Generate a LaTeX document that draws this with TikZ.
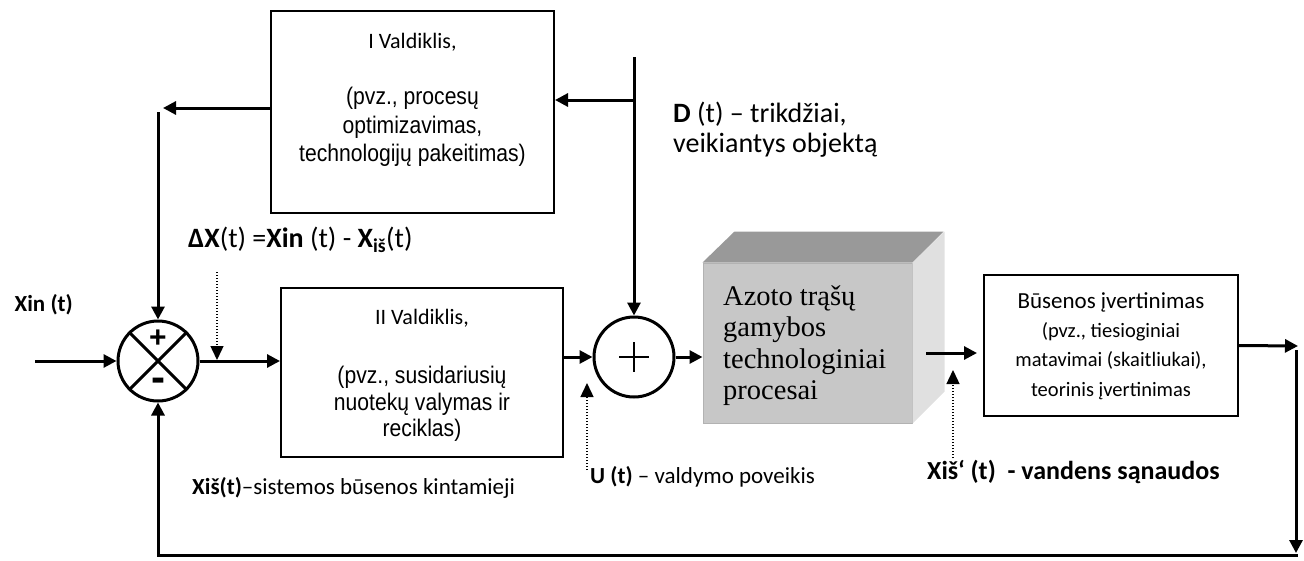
\documentclass[tikz,border=0pt]{standalone}
\usepackage{fontspec}
\setmainfont{Carlito}
\newfontfamily\arialn[FakeStretch=0.88]{Liberation Sans}
\newfontfamily\arialf{Liberation Sans}
\newfontfamily\timesf{Liberation Serif}
\usetikzlibrary{arrows.meta,calc}

\begin{document}
\begin{tikzpicture}[x=1pt,y=-1pt,
  arr/.style={line width=3pt,-{Triangle[length=13pt,width=13pt]}},
  dotarr/.style={line width=1.4pt,dash pattern=on 1.4pt off 1.6pt,-{Triangle[length=14pt,width=13pt]}},
  box/.style={draw,line width=2pt,inner sep=0pt},
  sum/.style={draw,circle,line width=3pt,minimum size=80pt,inner sep=0pt},
  lab/.style={inner sep=0pt,font=\fontsize{23}{26}\selectfont},
  boxtxt/.style={inner sep=0pt,align=center}
]
\useasboundingbox (0,0) rectangle (1304,560);

% controller I
\node[box,minimum width=283pt,minimum height=202pt] (vI) at (412.5,112) {};
\node[boxtxt,font=\fontsize{22}{26}\selectfont] (vIt) at (412.5,42) {I Valdiklis,};
\node[boxtxt,font=\arialn\fontsize{24}{28.5}\selectfont] (vIb) at (412.5,127)
  {(pvz., procesų\\optimizavimas,\\technologijų pakeitimas)};

% controller II
\node[box,minimum width=282pt,minimum height=169pt] (vII) at (422,372.5) {};
\node[boxtxt,font=\fontsize{22}{26}\selectfont] (vIIt) at (422,318) {II Valdiklis,};
\node[boxtxt,font=\arialn\fontsize{24}{26.5}\selectfont] (vIIb) at (422,404)
  {(pvz., susidariusių\\nuotekų valymas ir\\reciklas)};

% comparator
\node[sum] (s1) at (158,361) {};
\draw[line width=3pt] (s1.north east) -- (s1.south west) (s1.north west) -- (s1.south east);
\node[inner sep=0pt,font=\arialf\bfseries\fontsize{30}{30}\selectfont] (plus1) at (158,339) {+};
\node[inner sep=0pt,font=\arialf\bfseries\fontsize{42}{42}\selectfont] (minus1) at (158,385) {-};

% disturbance summing point
\node[sum] (s2) at (634,357) {};
\draw[line width=1.5pt] ($(s2)+(-15,0)$) -- ($(s2)+(15,0)$) ($(s2)+(0,-15)$) -- ($(s2)+(0,15)$);

% process block (3D box)
\node[draw=black!30,line width=1pt,fill=black!22,minimum width=209pt,minimum height=160pt,inner sep=0pt] (proc) at (807.5,343) {};
\fill[black!40] (proc.north west) -- ++(32,-31) -- ++(209,0) -- (proc.north east) -- cycle;
\fill[black!12] (proc.north east) -- ++(32,-31) -- ++(0,160) -- (proc.south east) -- cycle;
\node[inner sep=0pt,align=left,anchor=north west,font=\timesf\fontsize{28.5}{31.5}\selectfont] (proct) at (723,285)
  {Azoto trąšų\\gamybos\\technologiniai\\procesai};

% state estimation
\node[box,minimum width=254pt,minimum height=141pt] (bus) at (1111,345.5) {};
\node[boxtxt,font=\fontsize{20.5}{29.3}\selectfont] (bust) at (1111,346)
  {{\fontsize{23}{29.3}\selectfont Būsenos įvertinimas}\\(pvz., tiesioginiai\\matavimai (skaitliukai),\\teorinis įvertinimas};

% labels
\node[inner sep=0pt,anchor=west,align=left,font=\fontsize{28}{30}\selectfont] (dlab) at (673,130)
  {\textbf{D} (t) – trikdžiai,\\veikiantys objektą};
\node[lab,anchor=west,font=\fontsize{28}{30}\selectfont] (dxlab) at (188,240)
  {\textbf{ΔX}(t) =\textbf{Xin} (t) - \textbf{X}\textsubscript{\textbf{iš}}(t)};
\node[lab,anchor=east,font=\bfseries\fontsize{23}{26}\selectfont] (xinlab) at (73,305) {Xin (t)};
\node[lab,anchor=west] (xislab) at (192,488) {\textbf{Xiš(t)}–sistemos būsenos kintamieji};
\node[lab,anchor=west] (ulab) at (590,477) {\textbf{U (t)} – valdymo poveikis};
\node[lab,anchor=west,font=\bfseries\fontsize{26}{28}\selectfont] (xoutlab) at (927,472) {Xiš‘ (t)\ \ - vandens sąnaudos};

% helper points
\coordinate (iL) at (163,108);
\coordinate (iLv) at (158,112);
\coordinate (dTop) at (634,57);
\coordinate (dI) at (634,100);
\coordinate (xinS) at (35,361);
\coordinate (pOut) at (926,353);
\coordinate (bR) at (1298,346);
\coordinate (rTop) at (1296,350);
\coordinate (rBot) at (1296,553);
\coordinate (rCorner) at (1297.5,555);
\coordinate (lBot) at (158,555);
\coordinate (q1) at (217,272);
\coordinate (q2) at (587,470);
\coordinate (q2t) at (587,383);
\coordinate (q3) at (953,458);
\coordinate (q3t) at (953,370);

% connectors
\draw[arr] (vI.west |- iL) -- (iL);
\draw[arr] (iLv) -- (s1.north);
\draw[arr] (dTop) -- (s2.north);
\draw[arr] (dI) -- (vI.east |- dI);
\draw[arr] (xinS) -- (s1.west);
\draw[arr] (s1.east) -- (s1.east -| vII.west);
\draw[arr] (vII.east |- s2.west) -- (s2.west);
\draw[arr] (s2.east) -- (s2.east -| proc.west);
\draw[arr,shorten >=6pt] (pOut) -- (pOut -| bus.west);
\draw[arr] (bus.east) -- (bR);
\draw[arr] (rTop) -- (rBot);
\draw[arr] (rCorner) -- (lBot) -- (s1.south);

% dotted pointers
\draw[dotarr,shorten >=1pt] (q1) -- (q1 |- s1.east);
\draw[dotarr] (q2) -- (q2t);
\draw[dotarr] (q3) -- (q3t);
\end{tikzpicture}
\end{document}
